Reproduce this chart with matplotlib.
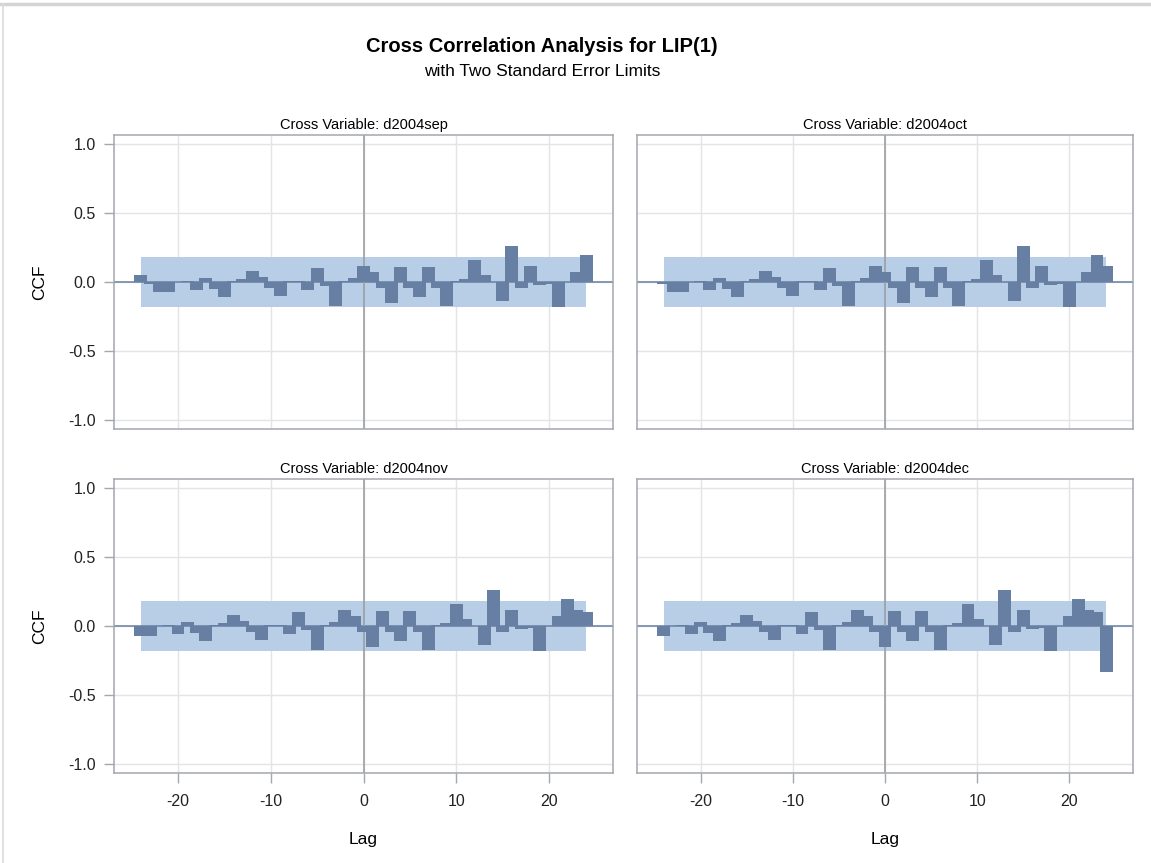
import numpy as np
import matplotlib
matplotlib.use('Agg')
import matplotlib.pyplot as plt
from matplotlib.lines import Line2D

plt.rcParams['font.family'] = ['Liberation Sans', 'DejaVu Sans']
plt.rcParams['axes.unicode_minus'] = False

# data
lags = list(range(-24, 25))
panel_names = ['d2004sep', 'd2004oct', 'd2004nov', 'd2004dec']

ccf_sep = [0.05, -0.01, -0.07, -0.07, 0.00, 0.01, -0.06, 0.03, -0.05, -0.11,
           0.01, 0.02, 0.08, 0.04, -0.04, -0.10, 0.01, 0.01, -0.06, 0.10,
           -0.03, -0.17, 0.01, 0.03, 0.12, 0.07, -0.04, -0.15, 0.11, -0.04,
           -0.11, 0.11, -0.04, -0.17, 0.01, 0.02, 0.16, 0.05, 0.00, -0.14,
           0.26, -0.04, 0.12, -0.02, -0.01, -0.18, 0.00, 0.07, 0.20]
ccf_oct = [-0.01, -0.07, -0.07, 0.00, 0.01, -0.06, 0.03, -0.05, -0.11, 0.01,
           0.02, 0.08, 0.04, -0.04, -0.10, 0.01, 0.01, -0.06, 0.10, -0.03,
           -0.17, 0.01, 0.03, 0.12, 0.07, -0.04, -0.15, 0.11, -0.04, -0.11,
           0.11, -0.04, -0.17, 0.01, 0.02, 0.16, 0.05, 0.00, -0.14, 0.26,
           -0.04, 0.12, -0.02, -0.01, -0.18, 0.00, 0.07, 0.20, 0.12]
ccf_nov = [-0.07, -0.07, 0.00, 0.01, -0.06, 0.03, -0.05, -0.11, 0.01, 0.02,
           0.08, 0.04, -0.04, -0.10, 0.01, 0.01, -0.06, 0.10, -0.03, -0.17,
           0.01, 0.03, 0.12, 0.07, -0.04, -0.15, 0.11, -0.04, -0.11, 0.11,
           -0.04, -0.17, 0.01, 0.02, 0.16, 0.05, 0.00, -0.14, 0.26, -0.04,
           0.12, -0.02, -0.01, -0.18, 0.00, 0.07, 0.20, 0.12, 0.10]
ccf_dec = [-0.07, 0.00, 0.01, -0.06, 0.03, -0.05, -0.11, 0.01, 0.02, 0.08,
           0.04, -0.04, -0.10, 0.01, 0.01, -0.06, 0.10, -0.03, -0.17, 0.01,
           0.03, 0.12, 0.07, -0.04, -0.15, 0.11, -0.04, -0.11, 0.11, -0.04,
           -0.17, 0.01, 0.02, 0.16, 0.05, 0.00, -0.14, 0.26, -0.04, 0.12,
           -0.02, -0.01, -0.18, 0.00, 0.07, 0.20, 0.12, 0.10, -0.33]
std_err_limit = 0.18

W, H = 1151, 863
bar_col = '#667fa3'
band_col = '#b8cde6'
frame_col = '#a3a8ae'
grid_col = '#e4e4e4'


def px_rect(x0, y0, x1, y1):
    return [x0 / W, 1 - y1 / H, (x1 - x0) / W, (y1 - y0) / H]


fig = plt.figure(figsize=(W / 100, H / 100), dpi=100)

# page border lines like the SAS output window
fig.add_artist(Line2D([0, 1], [1 - 4 / H, 1 - 4 / H], color='#d4d4d4', lw=2.5))
fig.add_artist(Line2D([3 / W, 3 / W], [0, 1 - 4 / H], color='#dadada', lw=1.2))

fig.text(542 / W, 1 - 46 / H, 'Cross Correlation Analysis for LIP(1)',
         ha='center', va='center', fontsize=14.5, fontweight='bold')
fig.text(542 / W, 1 - 71 / H, 'with Two Standard Error Limits',
         ha='center', va='center', fontsize=12.5)

rects = [(114, 135, 613, 429), (637, 135, 1133, 429),
         (114, 479, 613, 773), (637, 479, 1133, 773)]
series = [ccf_sep, ccf_oct, ccf_nov, ccf_dec]

for i in range(4):
    ax = fig.add_axes(px_rect(*rects[i]))
    ax.set_xlim(-26.9, 26.9)
    ax.set_ylim(-1.065, 1.067)

    ax.fill_between([-24, 24], -std_err_limit, std_err_limit,
                    color=band_col, lw=0, zorder=1)
    ax.axhline(0, color=bar_col, lw=1.1, zorder=1.5)
    ax.axvline(0, color='#9c9fa3', lw=1.2, zorder=2)
    ax.bar(lags, series[i], width=1.4, color=bar_col, lw=0, zorder=3)

    ax.set_xticks([-20, -10, 0, 10, 20])
    ax.set_yticks([-1.0, -0.5, 0.0, 0.5, 1.0])
    ax.grid(True, color=grid_col, lw=1)
    ax.set_axisbelow(True)
    for s in ax.spines.values():
        s.set_color(frame_col)
        s.set_linewidth(1.1)
    ax.tick_params(length=7, width=1, color=frame_col, labelsize=11.5,
                   labelcolor='#222222')
    ax.tick_params(axis='x', pad=8)
    ax.tick_params(axis='y', pad=6)
    ax.set_title('Cross Variable: ' + panel_names[i], fontsize=10.5, pad=4)

    if i % 2 == 0:
        ax.set_yticklabels(['-1.0', '-0.5', '0.0', '0.5', '1.0'])
        ax.set_ylabel('CCF', fontsize=12.5, labelpad=15)
    else:
        ax.tick_params(axis='y', left=False, labelleft=False)
    if i < 2:
        ax.tick_params(axis='x', bottom=False, labelbottom=False)
    else:
        ax.set_xlabel('Lag', fontsize=12.5, labelpad=17)

fig.savefig('out.png', dpi=100)
